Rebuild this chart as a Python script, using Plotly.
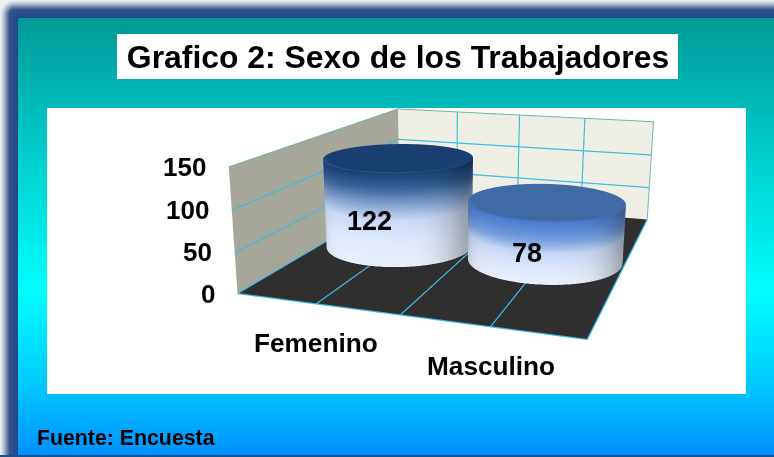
import numpy as np
import plotly.graph_objects as go

W, H = 774, 457

# Data
categories = ['Femenino', 'Masculino']
values = [122, 78]
z_ticks = [0, 50, 100, 150]
x_grid = [0.5, 1, 1.5]

# Camera of the 3D box. The scene is taller than the page so the lens matches the picture
eye = dict(x=1.2545, y=-3.9151, z=0.9995)
center = dict(x=-0.1571, y=0.0956, z=-0.1998)
aspect = dict(x=1.5, y=1.811, z=0.5504)
scene_cx = 446.6
FH = 722
TOP = 132


def py(y):
    return 1 - (y + TOP) / FH


# Background picture: gradient, frame and the white panels
bg_y = [18, 108, 290, 380, 456]
bg_c = [(0, 153, 150), (0, 188, 188), (0, 255, 255), (0, 204, 255), (0, 144, 255)]
yy = np.arange(H)
img = np.stack([np.interp(yy, bg_y, [c[i] for c in bg_c]) for i in range(3)], axis=1)
img = np.repeat(img[:, None, :], W, axis=1)
xg, yg = np.meshgrid(np.arange(W), yy)
r0 = 14
dist = np.minimum(xg, yg).astype(float)
corner = (xg < r0) & (yg < r0)
dist[corner] = np.maximum(r0 - np.hypot(r0 - xg[corner], r0 - yg[corner]), 0)
frame_stops = [(235, 238, 242), (190, 198, 212), (50, 85, 140), (31, 74, 133)]
frame = np.stack([np.interp(dist, [0, 3, 9, 18], c) for c in zip(*frame_stops)], axis=2)
mask = (xg < 18) | (yg < 18)
img[mask] = frame[mask]
img[455:, :] = (25, 80, 140)
img[108:394, 47:746] = 255
img[34:79, 117:678] = 255

fig = go.Figure()
fig.add_trace(go.Image(z=img.astype(np.uint8), xaxis='x', yaxis='y', hoverinfo='skip'))

# Cylinder colours, from the floor (0) to the top (1)
side_t = [0, .26, .5, .68, .84, 1]
side_c = [[(233, 239, 252), (224, 234, 252), (204, 220, 247), (127, 159, 205), (55, 98, 155), (26, 66, 118)],
          [(233, 239, 252), (221, 231, 250), (200, 217, 245), (126, 165, 227), (95, 142, 215), (74, 126, 208)]]
cap_c = [(24, 63, 112), (63, 106, 165)]
rim_c = [(47, 95, 152), (74, 121, 187)]


def cylinder(cx, val, side, cap, rim, rx=0.49, ry=0.205):
    n, m = 96, 24
    th = np.linspace(0, 2 * np.pi, n, endpoint=False)
    xs, ys, zs, cols = [], [], [], []
    I, J, K = [], [], []

    def quads(v0, v1, v2, v3):
        I.extend([v0, v1])
        J.extend([v1, v3])
        K.extend([v2, v2])

    for a in range(m + 1):
        t = a / m
        base = np.array([np.interp(t, side_t, [c[i] for c in side]) for i in range(3)])
        for b in range(n):
            xs.append(cx + rx * np.cos(th[b]))
            ys.append(.5 + ry * np.sin(th[b]))
            zs.append(val * t)
            cols.append('rgb(%d,%d,%d)' % tuple(base * (1 - 0.3 * abs(np.cos(th[b])) ** 6)))
    for a in range(m):
        for b in range(n):
            v0 = a * n + b
            v1 = a * n + (b + 1) % n
            quads(v0, v1, v0 + n, v1 + n)

    # top face with a lighter front rim
    start = len(xs)
    xs.append(cx)
    ys.append(.5)
    zs.append(val)
    cols.append('rgb(%d,%d,%d)' % cap)
    for q in [.93, 1]:
        for b in range(n):
            xs.append(cx + q * rx * np.cos(th[b]))
            ys.append(.5 + q * ry * np.sin(th[b]))
            zs.append(val)
            front = max(0, -np.sin(th[b])) if q == 1 else 0
            cols.append('rgb(%d,%d,%d)' % tuple(np.array(cap) + (np.array(rim) - np.array(cap)) * front))
    for b in range(n):
        v0 = start + 1 + b
        v1 = start + 1 + (b + 1) % n
        I.append(start)
        J.append(v0)
        K.append(v1)
        quads(v0, v1, v0 + n, v1 + n)

    return go.Mesh3d(x=xs, y=ys, z=zs, i=I, j=J, k=K, vertexcolor=cols, hoverinfo='skip', flatshading=False,
                     lighting=dict(ambient=1, diffuse=0, specular=0, roughness=1, fresnel=0))


for i, v in enumerate(values):
    fig.add_trace(cylinder(0.5 + i, v, side_c[i], cap_c[i], rim_c[i]))


def line3d(x, y, z, color='#3dbbe0', width=2.5):
    return go.Scatter3d(x=x, y=y, z=z, mode='lines', line=dict(color=color, width=width), hoverinfo='skip')


# Grid lines and box edges
for g in x_grid:
    fig.add_trace(line3d([g, g], [0, 1], [0, 0]))
    fig.add_trace(line3d([g, g], [1, 1], [0, z_ticks[-1]]))
for t in z_ticks[1:3]:
    fig.add_trace(line3d([0, 0, 2], [0, 1, 1], [t, t, t]))
fig.add_trace(line3d([0, 0, 2, 2], [0, 1, 1, 1], [150, 150, 150, 0], '#6fb5ad', 2))
fig.add_trace(line3d([0, 2, 2], [0, 0, 1], [0, 0, 0]))
fig.add_trace(line3d([0, 0], [0, 1], [0, 0]))

# Labels
ann = []
tick_font = dict(family='Liberation Sans', size=26, color='black')
label_font = dict(family='Liberation Sans', size=27, color='black')
for t in z_ticks:
    ann.append(dict(x=0, y=0, z=t, text=f'<b>{t}</b>', showarrow=False, xanchor='right', xshift=-21, font=tick_font))
for i, c in enumerate(categories):
    ann.append(dict(x=0.5 + i, y=0, z=0, text=f'<b>{c}</b>', showarrow=False, yshift=-39,
                    font=dict(family='Liberation Sans', size=26.2, color='black')))
label_shift = [(-30, -20), (-18, -22)]
for i, v in enumerate(values):
    ann.append(dict(x=0.5 + i, y=0.5, z=v / 2, text=f'<b>{v}</b>', showarrow=False,
                    xshift=label_shift[i][0], yshift=label_shift[i][1], font=label_font))

axis = dict(showticklabels=False, ticks='', title='', showspikes=False, zeroline=False, showline=False, showgrid=False)
half = min(scene_cx, W - scene_cx)
fig.update_layout(
    width=W, height=FH, margin=dict(l=0, r=0, t=0, b=0), showlegend=False,
    xaxis=dict(range=[-0.5, W - 0.5], visible=False, domain=[0, 1]),
    yaxis=dict(range=[H - 0.5, -0.5], visible=False, domain=[py(H), py(0)]),
    title=dict(text='<b>Grafico 2: Sexo de los Trabajadores</b>', x=398 / W, xanchor='center', y=py(57),
               yanchor='middle', font=dict(family='Liberation Sans', size=31.9, color='black')),
    scene=dict(
        domain=dict(x=[(scene_cx - half) / W, (scene_cx + half) / W], y=[0, 1]),
        aspectmode='manual', aspectratio=aspect,
        camera=dict(eye=eye, center=center, up=dict(x=0, y=0, z=1)),
        annotations=ann,
        xaxis=dict(range=[0, 2], showbackground=True, backgroundcolor='#a6a69a', **axis),
        yaxis=dict(range=[0, 1], showbackground=True, backgroundcolor='#eeeee4', **axis),
        zaxis=dict(range=[0, 150], showbackground=True, backgroundcolor='#2f2f2f', **axis)),
    annotations=[dict(xref='paper', yref='paper', x=35 / W, y=py(437.5), showarrow=False, xanchor='left',
                      yanchor='middle', text='<b>Fuente: Encuesta</b>',
                      font=dict(family='Liberation Sans', size=21.3, color='black'))],
)
fig.write_html('out.html', config=dict(displayModeBar=False),
               post_script=f"document.documentElement.style.overflow='hidden';document.body.style.margin='-{TOP}px 0 0 0';")
